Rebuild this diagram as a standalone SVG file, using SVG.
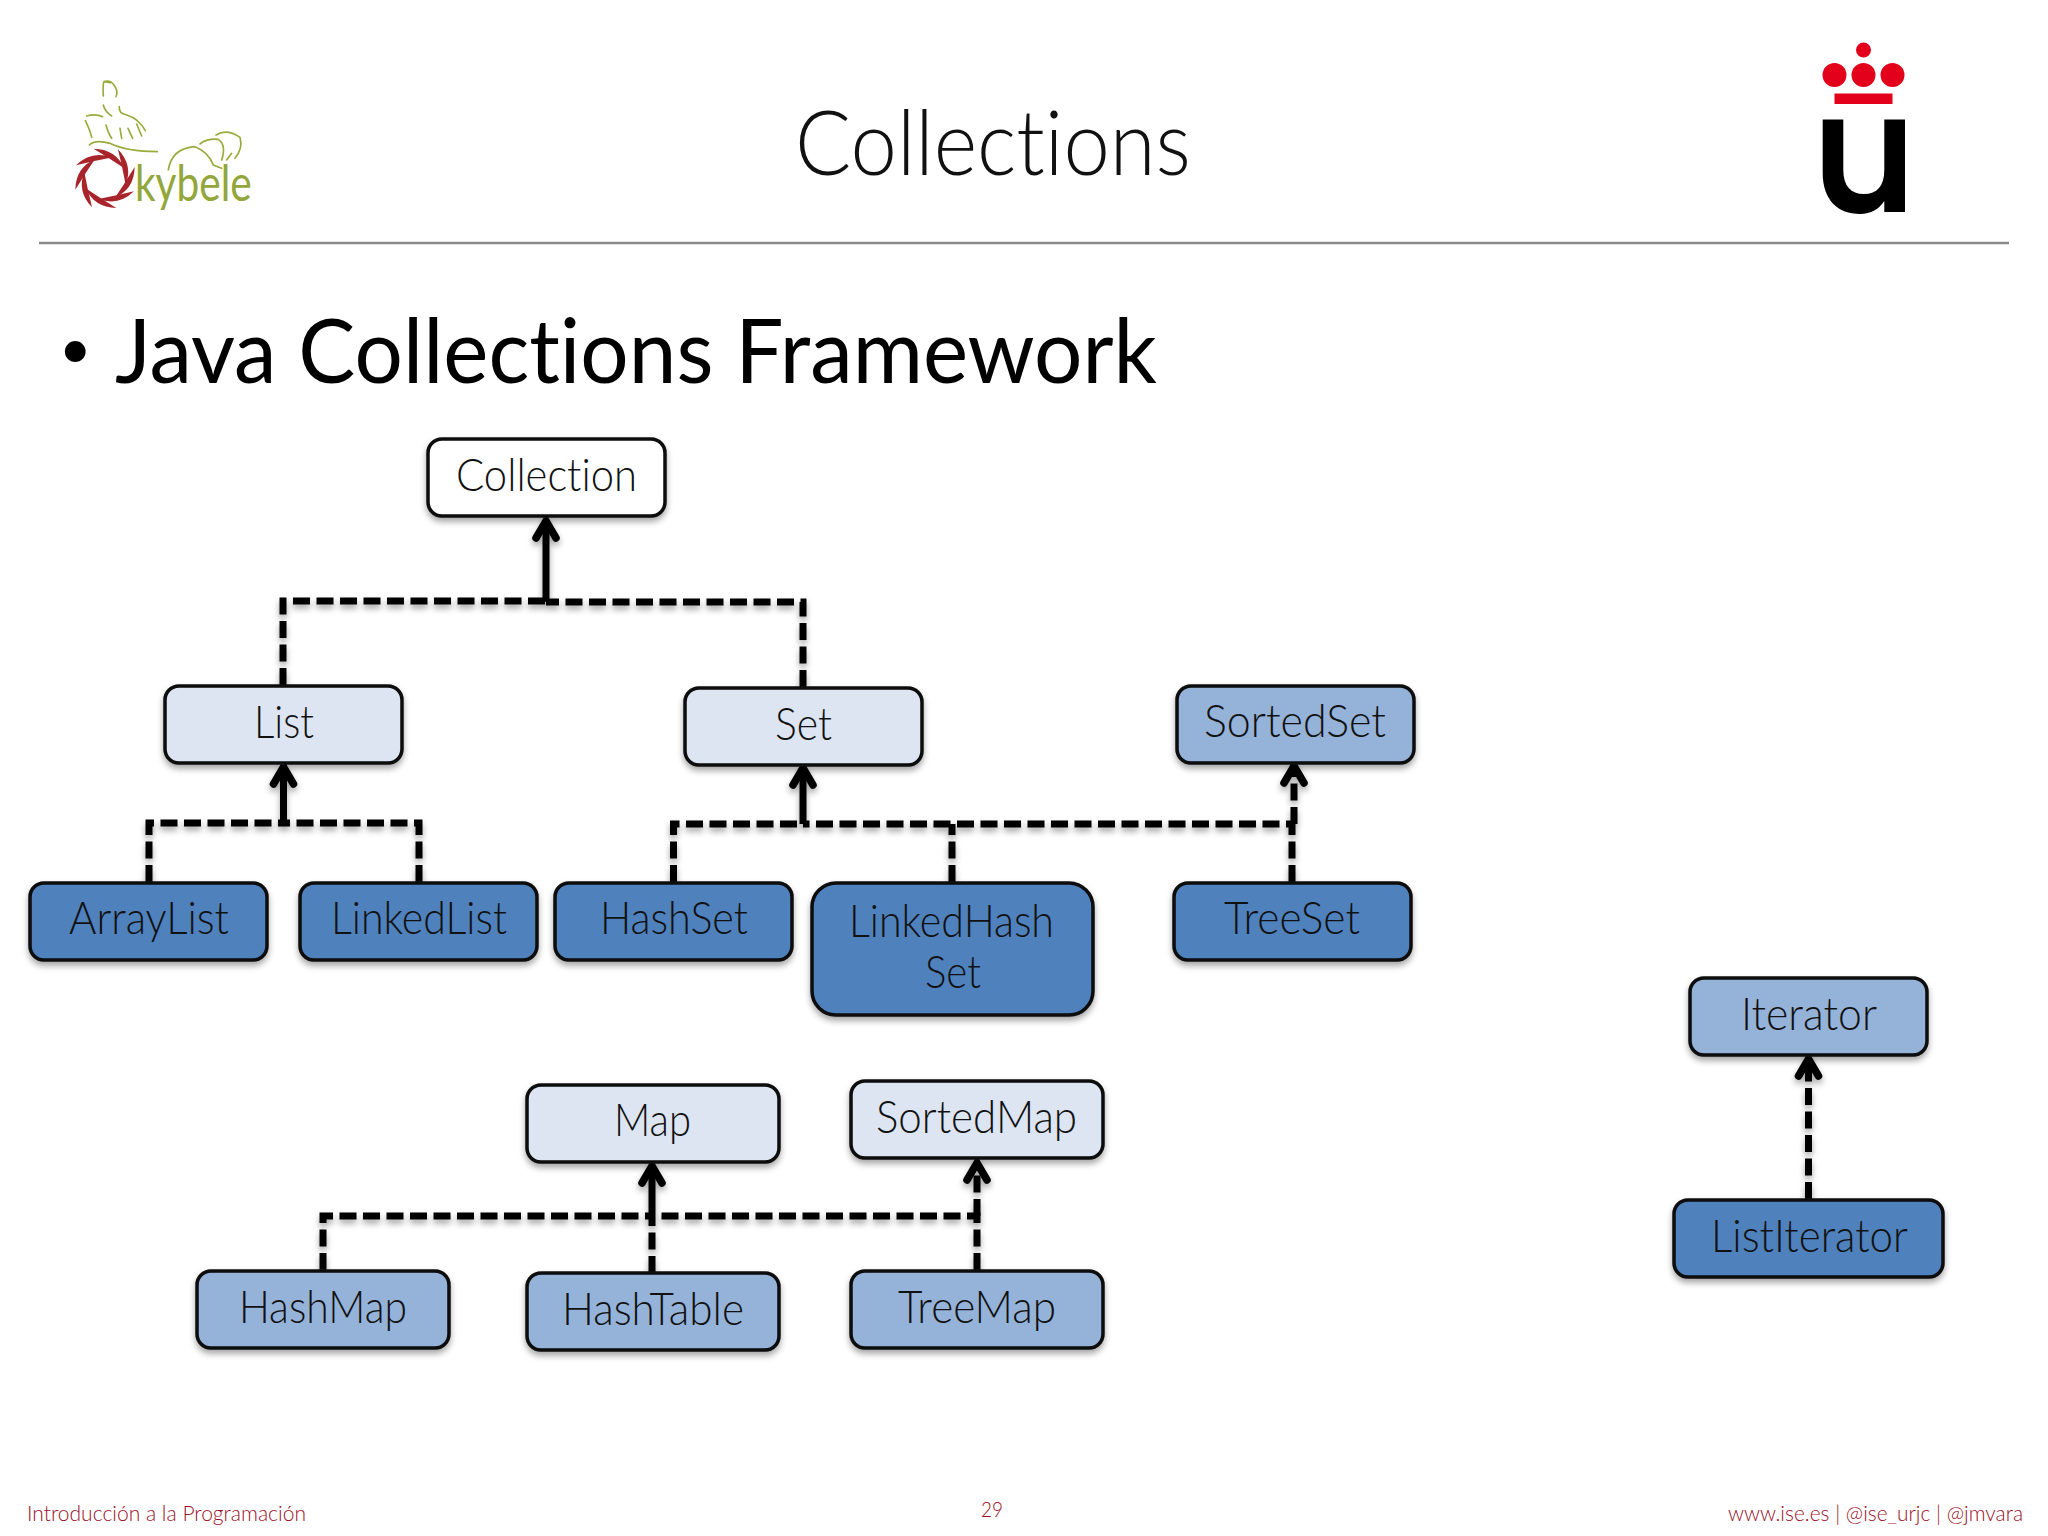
<svg xmlns="http://www.w3.org/2000/svg" width="2048" height="1536" viewBox="0 0 2048 1536">
<style>
text{font-family:"Lato","Open Sans","Liberation Sans",sans-serif;font-variant-ligatures:none}
.box{stroke:#0a0a0a;stroke-width:3.5}
.white{fill:#fff}.light{fill:#dce5f1}.mid{fill:#95b3d9}.dark{fill:#4f81bd}
.lbl{font-size:46px;font-weight:300;fill:#111}
.foot{font-size:22px;font-weight:300;fill:#9c1027}
.dash{fill:none;stroke:#000;stroke-width:7;stroke-dasharray:17 6.5}
.solid{fill:none;stroke:#000;stroke-width:7}
.ol{fill:none;stroke:#9aab3c;stroke-width:5;stroke-linecap:round}
</style>
<defs>
<filter id="sh" x="-10%" y="-10%" width="120%" height="130%"><feDropShadow dx="0" dy="4" stdDeviation="3" flood-color="#000" flood-opacity=".35"/></filter>
<marker id="ah" markerUnits="userSpaceOnUse" markerWidth="40" markerHeight="40" refX="20" refY="20" orient="auto" overflow="visible"><path d="M3,10 L20,20 L3,30" fill="none" stroke="#000" stroke-width="7.500" stroke-linecap="round" stroke-linejoin="miter"/></marker>
<path id="blade" d="M-34,-89 Q32,-88 58,-30 Q14,-60 -34,-89Z" fill="#a8242a"/>
</defs>
<rect width="2048" height="1536" fill="#fff"/>

<g id="logo-kybele" transform="translate(40,50) scale(.3333)">
<g transform="translate(195,385)">
<use href="#blade"/><use href="#blade" transform="rotate(45)"/><use href="#blade" transform="rotate(90)"/><use href="#blade" transform="rotate(135)"/><use href="#blade" transform="rotate(180)"/><use href="#blade" transform="rotate(225)"/><use href="#blade" transform="rotate(270)"/><use href="#blade" transform="rotate(315)"/>
</g>
<path class="ol" d="M190,138 Q188,100 192,95 Q210,88 222,105 Q236,125 228,140 M192,95 L212,98 M190,165 Q195,185 215,198 M238,170 Q235,190 260,195 Q295,205 316,242 M140,198 Q165,190 188,200 M136,212 Q150,240 155,262 M198,225 Q205,250 215,265 M240,235 L245,265 M264,235 L278,265 M290,222 L305,258 M148,285 Q165,268 210,280 Q260,305 352,305 M385,360 Q395,295 465,290 Q505,305 520,345 L545,355 M480,282 Q500,265 535,268 Q560,285 545,330 M528,255 Q560,235 600,262 Q610,295 585,325 M560,330 L575,310"/>
<text x="285" y="452" style="font-size:150px" fill="#93a63a" textLength="350" lengthAdjust="spacingAndGlyphs">kybele</text>
</g>

<g id="logo-urjc">
<circle cx="1863.5" cy="50" r="7.5" fill="#e2001a"/>
<circle cx="1834.5" cy="75" r="12" fill="#e2001a"/><circle cx="1863.5" cy="75" r="12" fill="#e2001a"/><circle cx="1892.5" cy="75" r="12" fill="#e2001a"/>
<rect x="1834.5" y="93.5" width="58" height="10.5" fill="#e2001a"/>
<path d="M1822.7,119.5H1843.3V170C1843.3,186 1851,194 1864,194C1877,194 1884.3,186 1884.3,170V119.5H1905V212H1884.3V201C1879,209 1871,214 1860,214C1838,214 1822.7,200 1822.7,173Z" fill="#000"/>
</g>

<text id="title" x="795" y="175" font-size="90" font-weight="300" fill="#111" textLength="396" lengthAdjust="spacingAndGlyphs">Collections</text>
<line x1="39" y1="243" x2="2009" y2="243" stroke="#8a8a8a" stroke-width="2.5"/>
<text x="59" y="368" font-size="56" fill="#000">•</text>
<text id="heading" x="115" y="383" font-size="90" fill="#000" textLength="1042" lengthAdjust="spacingAndGlyphs">Java Collections Framework</text>

<g id="connectors" filter="url(#sh)">
<path class="dash" d="M283,685V601H546"/>
<path class="dash" d="M803,687V602H546"/>
<path class="solid" d="M546,602V521" marker-end="url(#ah)"/>
<path class="dash" d="M149,882V823H283"/>
<path class="dash" d="M419,882V823H283"/>
<path class="solid" d="M283.500,823V767" marker-end="url(#ah)"/>
<path class="dash" d="M673.500,882V824H803"/>
<path class="dash" d="M952,882V824"/>
<path class="dash" d="M1292,882V824H803"/>
<path class="solid" d="M803,824V768" marker-end="url(#ah)"/>
<path class="dash" d="M1294,824V766" marker-end="url(#ah)"/>
<path class="dash" d="M323,1270V1216H652"/>
<path class="dash" d="M652,1273V1216"/>
<path class="dash" d="M977,1270V1216H652"/>
<path class="solid" d="M652,1216V1166" marker-end="url(#ah)"/>
<path class="dash" d="M977,1216V1163" marker-end="url(#ah)"/>
<path class="dash" d="M1808.500,1199V1059" marker-end="url(#ah)"/>
</g>

<g id="collection"><rect class="box white" filter="url(#sh)" x="428" y="439" width="237" height="77" rx="14"/><text class="lbl" x="456" y="491" textLength="181" lengthAdjust="spacingAndGlyphs">Collection</text></g>
<g id="list"><rect class="box light" filter="url(#sh)" x="165" y="686" width="237" height="77" rx="14"/><text class="lbl" x="254" y="738" textLength="60" lengthAdjust="spacingAndGlyphs">List</text></g>
<g id="set"><rect class="box light" filter="url(#sh)" x="685" y="688" width="237" height="77" rx="14"/><text class="lbl" x="775" y="740" textLength="57" lengthAdjust="spacingAndGlyphs">Set</text></g>
<g id="sortedset"><rect class="box mid" filter="url(#sh)" x="1177" y="686" width="237" height="77" rx="14"/><text class="lbl" x="1204" y="737" textLength="182" lengthAdjust="spacingAndGlyphs">SortedSet</text></g>
<g id="arraylist"><rect class="box dark" filter="url(#sh)" x="30" y="883" width="237" height="77" rx="14"/><text class="lbl" x="69" y="934" textLength="160" lengthAdjust="spacingAndGlyphs">ArrayList</text></g>
<g id="linkedlist"><rect class="box dark" filter="url(#sh)" x="300" y="883" width="237" height="77" rx="14"/><text class="lbl" x="331" y="934" textLength="176" lengthAdjust="spacingAndGlyphs">LinkedList</text></g>
<g id="hashset"><rect class="box dark" filter="url(#sh)" x="555" y="883" width="237" height="77" rx="14"/><text class="lbl" x="600" y="934" textLength="148" lengthAdjust="spacingAndGlyphs">HashSet</text></g>
<g id="linkedhashset"><rect class="box dark" filter="url(#sh)" x="812" y="883" width="281" height="132" rx="24"/><text class="lbl" x="849" y="937" textLength="205" lengthAdjust="spacingAndGlyphs">LinkedHash</text><text class="lbl" x="925" y="988" textLength="56" lengthAdjust="spacingAndGlyphs">Set</text></g>
<g id="treeset"><rect class="box dark" filter="url(#sh)" x="1174" y="883" width="237" height="77" rx="14"/><text class="lbl" x="1224" y="934" textLength="136" lengthAdjust="spacingAndGlyphs">TreeSet</text></g>
<g id="map"><rect class="box light" filter="url(#sh)" x="527" y="1085" width="252" height="77" rx="14"/><text class="lbl" x="614" y="1136" textLength="77" lengthAdjust="spacingAndGlyphs">Map</text></g>
<g id="sortedmap"><rect class="box light" filter="url(#sh)" x="851" y="1081" width="252" height="77" rx="14"/><text class="lbl" x="876" y="1133" textLength="201" lengthAdjust="spacingAndGlyphs">SortedMap</text></g>
<g id="hashmap"><rect class="box mid" filter="url(#sh)" x="197" y="1271" width="252" height="77" rx="14"/><text class="lbl" x="239" y="1323" textLength="168" lengthAdjust="spacingAndGlyphs">HashMap</text></g>
<g id="hashtable"><rect class="box mid" filter="url(#sh)" x="527" y="1273" width="252" height="77" rx="14"/><text class="lbl" x="562" y="1325" textLength="182" lengthAdjust="spacingAndGlyphs">HashTable</text></g>
<g id="treemap"><rect class="box mid" filter="url(#sh)" x="851" y="1271" width="252" height="77" rx="14"/><text class="lbl" x="898" y="1323" textLength="158" lengthAdjust="spacingAndGlyphs">TreeMap</text></g>
<g id="iterator"><rect class="box mid" filter="url(#sh)" x="1690" y="978" width="237" height="77" rx="14"/><text class="lbl" x="1741" y="1030" textLength="136" lengthAdjust="spacingAndGlyphs">Iterator</text></g>
<g id="listiterator"><rect class="box dark" filter="url(#sh)" x="1674" y="1200" width="269" height="77" rx="14"/><text class="lbl" x="1711" y="1252" textLength="197" lengthAdjust="spacingAndGlyphs">ListIterator</text></g>

<text class="foot" x="27" y="1521" textLength="279" lengthAdjust="spacingAndGlyphs">Introducción a la Programación</text>
<text class="foot" x="981" y="1517" textLength="22" lengthAdjust="spacingAndGlyphs">29</text>
<text class="foot" x="1728" y="1521" textLength="295" lengthAdjust="spacingAndGlyphs">www.ise.es | @ise_urjc | @jmvara</text>
</svg>
